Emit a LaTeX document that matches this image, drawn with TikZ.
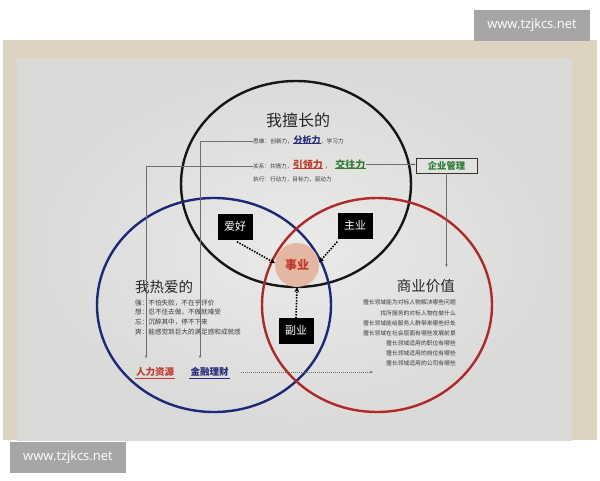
\documentclass[tikz,border=0pt]{standalone}
\usepackage{fontspec}
\setmainfont{Noto Sans CJK SC}
\newfontfamily\wmfont{Open Sans}
\usetikzlibrary{arrows.meta}
\definecolor{wood}{HTML}{DCD3C1}
\definecolor{paperin}{HTML}{EAEAE8}
\definecolor{paperout}{HTML}{D9D9D7}
\definecolor{cblack}{HTML}{161616}
\definecolor{cblue}{HTML}{1E2878}
\definecolor{cred}{HTML}{B02828}
\definecolor{navy}{HTML}{2A2A7A}
\definecolor{tred}{HTML}{C03A2C}
\definecolor{tgreen}{HTML}{2F7A34}
\definecolor{bodygray}{HTML}{3A3A3A}
\definecolor{linegray}{HTML}{6E6E6E}
\definecolor{peach}{HTML}{E3B7A1}
\definecolor{boxfill}{HTML}{E2E2E0}
\definecolor{wmgray}{HTML}{A6A6A6}
\begin{document}
\begin{tikzpicture}[x=1pt,y=-1pt,
  conn/.style={draw=linegray,line width=0.45pt},
  tip/.style={-{Stealth[length=3pt,width=2.4pt]}},
  dots/.style={draw=black,line width=1.6pt,dash pattern=on 1.5pt off 1.3pt,-{Stealth[length=5pt,width=5pt]}},
  blk/.style={fill=black,text=white,minimum width=35pt,minimum height=26pt,inner sep=0pt,font=\fontsize{11}{12}\selectfont},
  small/.style={inner sep=0pt,text=bodygray},
  circ/.style={line width=2.4pt},
  wm/.style={fill=wmgray,text=white,inner sep=0pt,minimum width=116pt,minimum height=31pt,font=\wmfont\fontsize{13}{14}\selectfont}]
\useasboundingbox (0,0) rectangle (600,480);
\fill[white] (0,0) rectangle (600,480);
% photo background
\fill[wood] (3,40) rectangle (597,440);
\shade[inner color=paperin,outer color=paperout] (17,58) rectangle (572,440);
% circles
\draw[circ,draw=cblack] (296,184) ellipse [x radius=115,y radius=103];
\draw[circ,draw=cblue] (214,305) ellipse [x radius=117,y radius=107];
\draw[circ,draw=cred] (377,305) ellipse [x radius=115,y radius=107];
% top circle texts
\node[inner sep=0pt,text=black!85,font=\fontsize{16}{18}\selectfont] (t1) at (298,120) {我擅长的};
\node[small,anchor=base west,font=\fontsize{5.7}{7}\selectfont] (s1) at (253,143.2) {思维：创新力，};
\node[inner sep=0pt,anchor=base west,text=navy,font=\bfseries\fontsize{9}{10}\selectfont] (fx) at (s1.base east) {分析力};
\node[small,anchor=base west,font=\fontsize{5.7}{7}\selectfont] (s1b) at (fx.base east) {，学习力};
\node[small,anchor=base west,font=\fontsize{5.6}{7}\selectfont] (g1) at (253,168.2) {关系：共情力，};
\node[inner sep=0pt,anchor=base west,text=tred,font=\bfseries\fontsize{10}{11}\selectfont] (yl) at (g1.base east) {引领力};
\node[small,anchor=base west,font=\fontsize{5.7}{7}\selectfont] (cm) at ([xshift=2pt]yl.base east) {，};
\node[inner sep=0pt,anchor=base west,text=tgreen,font=\bfseries\fontsize{10}{11}\selectfont] (jw) at ([xshift=4pt]cm.base east) {交往力};
\node[small,anchor=base west,font=\fontsize{5.6}{7}\selectfont] (zx) at (253,181.3) {执行：行动力，目标力，驱动力};
\draw[navy,line width=0.6pt] (fx.base west) -- (fx.base east);
\draw[tred,line width=0.6pt] (yl.base west) -- (yl.base east);
\draw[tgreen,line width=0.6pt] (jw.base west) -- (jw.base east);
% left circle texts
\node[inner sep=0pt,anchor=west,text=black!85,font=\fontsize{14.5}{16}\selectfont] (t2) at (135,287) {我热爱的};
\node[small,anchor=north west,align=left,font=\fontsize{6.6}{9.7}\selectfont] (bl) at (135,299.3) {强：不怕失败，不在乎评价\\想：忍不住去做，不做就难受\\忘：沉醉其中，停不下来\\爽：能感觉到巨大的满足感和成就感};
% right circle texts
\node[inner sep=0pt,anchor=east,text=black!85,font=\fontsize{14.5}{16}\selectfont] (t3) at (455,286) {商业价值};
\node[small,anchor=north east,align=right,font=\fontsize{5.8}{10.17}\selectfont] (rl) at (456,299.8) {擅长领域能为对标人物解决哪些问题\\找所服务的对标人物在做什么\\擅长领域能给服务人群带来哪些好处\\擅长领域在社会层面有哪些发展前景\\擅长领域适用的职位有哪些\\擅长领域适用的岗位有哪些\\擅长领域适用的公司有哪些};
% bottom labels
\node[inner sep=1pt,text=tred,font=\bfseries\fontsize{9.5}{10}\selectfont] (rz) at (155,372) {人力资源};
\node[inner sep=1pt,text=navy,font=\bfseries\fontsize{9.5}{10}\selectfont] (jr) at (209.5,372) {金融理财};
\draw[tred,line width=0.7pt] ([yshift=-0.5pt]rz.south west) -- ([yshift=-0.5pt]rz.south east);
\draw[navy,line width=0.7pt] ([yshift=-0.5pt]jr.south west) -- ([yshift=-0.5pt]jr.south east);
% box
\node[draw=black!80,line width=0.8pt,fill=boxfill,minimum width=61pt,minimum height=15pt,inner sep=0pt,text=tgreen,font=\bfseries\fontsize{9.3}{10}\selectfont] (qy) at (446.5,165.5) {企业管理};
% connectors
\coordinate (sy) at (446.5,267);
\coordinate (jrend) at (373,372);
\draw[conn,tip] (s1.west) -| ([xshift=-9.5pt,yshift=8pt]jr.north);
\draw[conn,tip] (g1.west) -| ([xshift=-9pt,yshift=8pt]rz.north);
\draw[conn,tip] (jw.east) -- (jw.east -| qy.west);
\draw[conn,tip] (qy.south) -- (sy);
\draw[conn,tip,dash pattern=on 1.2pt off 0.8pt] ([xshift=11pt]jr.east) -- (jrend);
% center
\node[circle,fill=peach,minimum size=44pt,inner sep=0pt,text=tred,font=\bfseries\fontsize{12}{13}\selectfont] (shiye) at (297,265) {事业};
\node[blk] (ah) at (235,226.5) {爱好};
\node[blk] (zy) at (355,225.5) {主业};
\node[blk] (fy) at (296,330.5) {副业};
\draw[dots] ([xshift=2pt,yshift=-2pt]ah.south) -- (shiye.175);
\draw[dots] ([yshift=-3pt]zy.south west) -- (shiye.7);
\draw[dots] ([yshift=-1pt]fy.north) -- (shiye.south);
% watermarks
\node[wm] (w1) at (532,25) {www.tzjkcs.net};
\node[wm] (w2) at (68,457) {www.tzjkcs.net};
\end{tikzpicture}
\end{document}
